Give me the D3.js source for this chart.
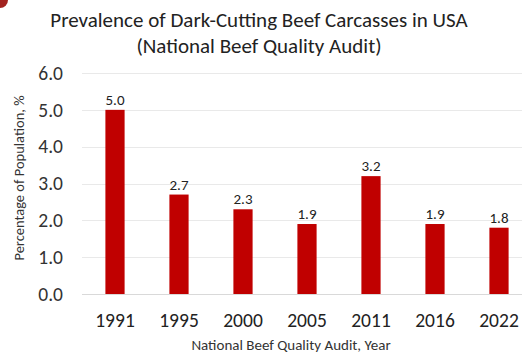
<!DOCTYPE html>
<html>
<head>
<meta charset="utf-8">
<script src="https://cdn.jsdelivr.net/npm/d3@7"></script>
<style>
  body { margin: 0; background: #fff; }
  text { font-family: Carlito, Lato, "Open Sans", sans-serif; }
</style>
</head>
<body>
<div id="chart-area"></div>
<script>
// chart data
const years = ["1991", "1995", "2000", "2005", "2011", "2016", "2022"]
const prevalence = [5.0, 2.7, 2.3, 1.9, 3.2, 1.9, 1.8]
const yTicks = [0, 1, 2, 3, 4, 5, 6]

const data = years.map(function(y, i){ return { year: y, value: prevalence[i] } })

const W = 522, H = 355
const plotLeft = 82, plotTop = 73, plotBottom = 294

const svg = d3.select("#chart-area").append("svg")
    .attr("width", W)
    .attr("height", H)

// little red corner mark in the top-left
svg.append("path")
    .attr("d", d3.arc()({ innerRadius: 0, outerRadius: 8, startAngle: Math.PI / 2, endAngle: Math.PI }))
    .attr("fill", "#a3231f")

const x = d3.scaleBand()
    .domain(years)
    .range([plotLeft + 1, plotLeft + 1 + 64 * 7])
    .paddingInner(0.7)
    .paddingOuter(0.35)

const y = d3.scaleLinear()
    .domain([0, 6])
    .range([plotBottom, plotTop])

// gridlines
svg.append("g")
    .attr("class", "grid")
    .selectAll("line")
    .data(yTicks)
    .enter().append("line")
        .attr("x1", plotLeft)
        .attr("x2", W)
        .attr("y1", function(d){ return Math.round(y(d)) + 0.5 })
        .attr("y2", function(d){ return Math.round(y(d)) + 0.5 })
        .attr("stroke", function(d){ return d === 0 ? "#d9d9d9" : "#e9e9e9" })
        .attr("stroke-width", 1.2)

// y axis labels (no line)
const yAxisCall = d3.axisLeft(y)
    .tickValues(yTicks)
    .tickFormat(d3.format(".1f"))
    .tickSize(0)
    .tickPadding(0)
const yAxis = svg.append("g")
    .attr("class", "y axis")
    .attr("transform", "translate(63,0)")
    .call(yAxisCall)
yAxis.select(".domain").remove()
yAxis.selectAll("text")
    .attr("font-size", "19.5px")
    .attr("fill", "#333")
    .attr("font-family", "Carlito, Lato, sans-serif")

// x axis labels
const xAxisCall = d3.axisBottom(x).tickSize(0).tickPadding(0)
const xAxis = svg.append("g")
    .attr("class", "x axis")
    .attr("transform", "translate(0,313)")
    .call(xAxisCall)
xAxis.select(".domain").remove()
xAxis.selectAll("text")
    .attr("font-size", "19.5px")
    .attr("fill", "#222")
    .attr("font-family", "Carlito, Lato, sans-serif")

// bars
svg.selectAll("rect.bar")
    .data(data)
    .enter().append("rect")
        .attr("class", "bar")
        .attr("x", function(d){ return x(d.year) })
        .attr("y", function(d){ return y(d.value) })
        .attr("width", x.bandwidth())
        .attr("height", function(d){ return y(0) - y(d.value) })
        .attr("fill", "#c00000")

// value labels
svg.selectAll("text.val")
    .data(data)
    .enter().append("text")
        .attr("class", "val")
        .attr("x", function(d){ return x(d.year) + x.bandwidth() / 2 })
        .attr("y", function(d){ return y(d.value) - 5 })
        .attr("text-anchor", "middle")
        .attr("font-size", "15px")
        .attr("fill", "#222")
        .text(function(d){ return d.value.toFixed(1) })

// title
svg.append("text")
    .attr("x", 259)
    .attr("y", 27)
    .attr("text-anchor", "middle")
    .attr("font-size", "21px")
    .attr("fill", "#222")
    .text("Prevalence of Dark-Cutting Beef Carcasses in USA")
svg.append("text")
    .attr("x", 259)
    .attr("y", 53)
    .attr("text-anchor", "middle")
    .attr("font-size", "21px")
    .attr("fill", "#222")
    .text("(National Beef Quality Audit)")

// axis titles
svg.append("text")
    .attr("x", 291)
    .attr("y", 350)
    .attr("text-anchor", "middle")
    .attr("font-size", "15px")
    .attr("fill", "#333")
    .text("National Beef Quality Audit, Year")

svg.append("text")
    .attr("transform", "translate(24,178) rotate(-90)")
    .attr("text-anchor", "middle")
    .attr("font-size", "14.5px")
    .attr("fill", "#333")
    .text("Percentage of Population, %")
</script>
</body>
</html>
